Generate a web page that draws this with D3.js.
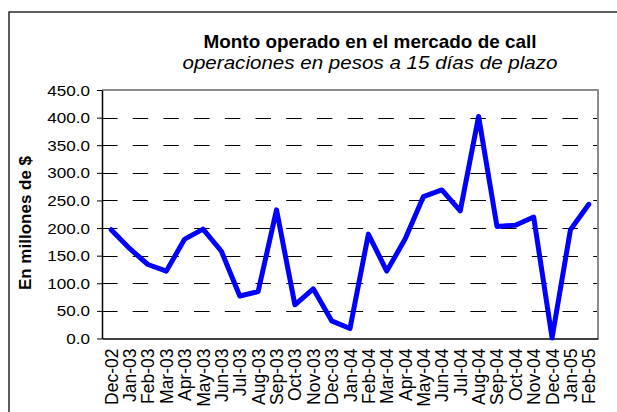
<!DOCTYPE html>
<html>
<head>
<meta charset="utf-8">
<script src="https://cdn.jsdelivr.net/npm/d3@7/dist/d3.min.js"></script>
<style>
  html, body { margin: 0; padding: 0; background: #fff; }
  svg { display: block; font-family: Arial, "Liberation Sans", sans-serif; }
</style>
</head>
<body>
<svg id="chart" width="617" height="412"></svg>
<script>
// Monthly call-market volume, millions of pesos
const months = ["Dec-02","Jan-03","Feb-03","Mar-03","Apr-03","May-03","Jun-03","Jul-03",
  "Aug-03","Sep-03","Oct-03","Nov-03","Dec-03","Jan-04","Feb-04","Mar-04","Apr-04",
  "May-04","Jun-04","Jul-04","Aug-04","Sep-04","Oct-04","Nov-04","Dec-04","Jan-05","Feb-05"];
const amounts = [197, 163, 134, 122, 180, 198, 158, 77, 85, 233, 61, 90, 32, 18, 189, 122,
  180, 257, 269, 231, 402, 203, 205, 220, 1, 197, 243];
const yTicks = [0, 50, 100, 150, 200, 250, 300, 350, 400, 450];

const svg = d3.select("#chart");
const plot = { left: 102, right: 598, top: 90, bottom: 338.5 };

const x = d3.scaleBand().domain(months).range([plot.left, plot.right]);
const y = d3.scaleLinear().domain([0, 450]).range([plot.bottom, plot.top]);

// outer chart frame (extends past the visible area on the right and bottom)
svg.append("rect")
  .attr("x", 9).attr("y", 12).attr("width", 700).attr("height", 500)
  .attr("fill", "none").attr("stroke", "#2a2a2a").attr("stroke-width", 1.5);

// titles
svg.append("text")
  .attr("x", 370).attr("y", 47.5)
  .attr("text-anchor", "middle")
  .attr("font-size", 18.5).attr("font-weight", "bold")
  .attr("textLength", 333).attr("lengthAdjust", "spacingAndGlyphs")
  .text("Monto operado en el mercado de call");
svg.append("text")
  .attr("x", 370).attr("y", 69)
  .attr("text-anchor", "middle")
  .attr("font-size", 18).attr("font-style", "italic")
  .attr("textLength", 375).attr("lengthAdjust", "spacingAndGlyphs")
  .text("operaciones en pesos a 15 días de plazo");

// dashed horizontal gridlines
svg.append("g")
  .selectAll("line")
  .data(yTicks.filter(t => t > 0 && t < 450))
  .join("line")
  .attr("x1", plot.left).attr("x2", plot.right)
  .attr("y1", d => Math.round(y(d)) + 0.5).attr("y2", d => Math.round(y(d)) + 0.5)
  .attr("stroke", "#000").attr("stroke-width", 1)
  .attr("stroke-dasharray", "15.5,15.2");

// plot area border: grey top/right
svg.append("path")
  .attr("d", `M${plot.left},${plot.top}H${plot.right}V${plot.bottom}`)
  .attr("fill", "none").attr("stroke", "#8c8c8c").attr("stroke-width", 2);

// y axis
const yAxis = d3.axisLeft(y).tickValues(yTicks).tickSize(5).tickSizeOuter(0)
  .tickFormat(d3.format(".1f"));
const gy = svg.append("g").attr("transform", `translate(${plot.left},0)`).call(yAxis);
gy.select(".domain").attr("stroke", "#000").attr("stroke-width", 1.5);
gy.selectAll(".tick line").attr("stroke", "#000");
gy.selectAll(".tick text")
  .attr("font-size", 14).attr("fill", "#000")
  .attr("font-family", "Arial, 'Liberation Sans', sans-serif")
  .attr("x", null).attr("dy", null)
  .attr("text-anchor", "end")
  .attr("transform", "translate(-12,5) scale(1.22,1)");

// x axis
const xAxis = d3.axisBottom(x).tickSize(0).tickSizeOuter(0);
const gx = svg.append("g").attr("transform", `translate(0,${plot.bottom})`).call(xAxis);
gx.select(".domain").attr("stroke", "#000").attr("stroke-width", 1.5);
gx.selectAll(".tick text")
  .attr("font-size", 17.5).attr("fill", "#000")
  .attr("font-family", "Arial, 'Liberation Sans', sans-serif")
  .attr("y", null).attr("dy", null)
  .attr("text-anchor", "end")
  .attr("transform", "translate(6.5,10) rotate(-90)");

// y axis title
svg.append("text")
  .attr("transform", "translate(31,223) rotate(-90)")
  .attr("text-anchor", "middle")
  .attr("font-size", 17).attr("font-weight", "bold")
  .text("En millones de $");

// series line
const line = d3.line()
  .x((d, i) => x(months[i]) + x.bandwidth() / 2)
  .y(d => y(d));
svg.append("path")
  .datum(amounts)
  .attr("d", line)
  .attr("fill", "none")
  .attr("stroke", "#0000ff")
  .attr("stroke-width", 5)
  .attr("stroke-linejoin", "round")
  .attr("stroke-linecap", "round");
</script>
</body>
</html>
